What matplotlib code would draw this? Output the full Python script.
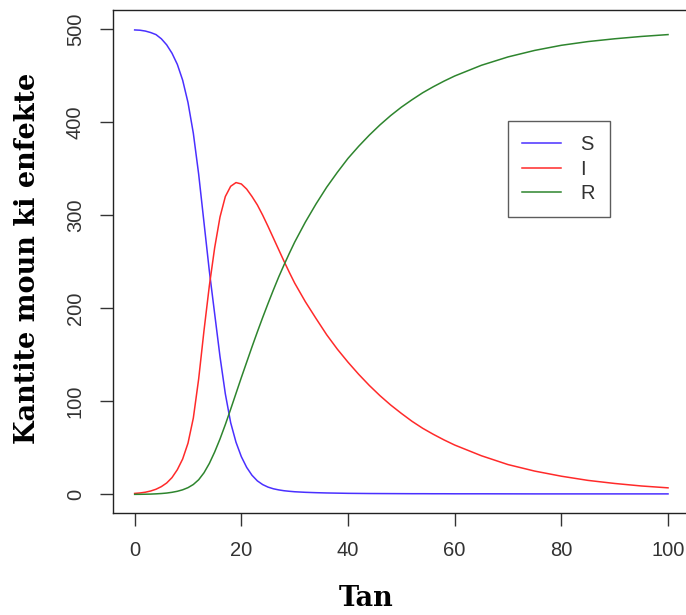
import matplotlib
matplotlib.use("Agg")
import matplotlib.pyplot as plt

# values (SIR epidemic curves)
days = [0, 1, 2, 3, 4, 5, 6, 7, 8, 9, 10, 11, 12, 13, 14, 15, 16, 17, 18,
        19, 20, 21, 22, 23, 24, 25, 26, 27, 28, 29, 30, 32, 34, 36, 38, 40,
        42, 44, 46, 48, 50, 52, 54, 56, 58, 60, 65, 70, 75, 80, 85, 90, 95,
        100]
susceptible = [499, 498.7, 497.8, 496.2, 494, 489.5, 483, 474, 462, 445, 421,
               388, 344, 292, 240, 194, 148, 108, 77, 56, 40.5, 29, 20.5,
               14.5, 10.5, 7.8, 6, 4.8, 3.9, 3.3, 2.8, 2.2, 1.8, 1.5, 1.3,
               1.1, 1.0, 0.9, 0.85, 0.8, 0.75, 0.7, 0.7, 0.65, 0.65, 0.6,
               0.6, 0.55, 0.5, 0.5, 0.5, 0.5, 0.5, 0.5]
infected = [1, 1.5, 2.3, 3.6, 5.5, 8.3, 12.2, 18, 26.5, 38, 55, 82, 124, 176,
            224, 265, 298, 320, 331, 335, 333.5, 328, 320, 311, 300, 288,
            275.5, 263, 250.5, 238.5, 227, 207, 189, 171.5, 156, 142, 129,
            117, 106, 96, 87, 78.5, 71, 64.5, 58.5, 53, 41.5, 32, 25, 19.5,
            15, 11.7, 9, 7]
recovered = [0, 0.05, 0.15, 0.3, 0.55, 0.9, 1.4, 2.2, 3.3, 4.9, 7.2, 10.6,
             15.7, 23.2, 33.2, 45.5, 59.5, 75, 91.5, 108.5, 125.5, 142,
             158.5, 174.5, 190, 205, 219.5, 233.5, 246.5, 259, 271, 292.5,
             312, 330, 346, 361, 374, 386, 397, 407, 416, 424, 431.5, 438,
             444, 449.5, 461, 470, 477, 482.5, 486.5, 489.5, 492, 494]

series = [("S", susceptible, "#4a30ff"),
          ("I", infected, "#ff2a2a"),
          ("R", recovered, "#2e852e")]

x_ticks = [0, 20, 40, 60, 80, 100]
y_ticks = [0, 100, 200, 300, 400, 500]

fig = plt.figure(figsize=(6.86, 6.15), dpi=100)
ax = fig.add_axes([0.1652, 0.1659, 0.8397, 0.8172])

for name, values, color in series:
    ax.plot(days, values, color=color, linewidth=1.1, label=name,
            solid_joinstyle="round")

ax.set_xlim(-4, 104)
ax.set_ylim(-20, 520)
ax.set_xticks(x_ticks)
ax.set_yticks(y_ticks)

tick_font = {"family": "Liberation Sans", "size": 14.5}
ax.set_xticklabels([str(v) for v in x_ticks], fontdict=tick_font, color="#333333")
ax.set_yticklabels([str(v) for v in y_ticks], fontdict=tick_font, color="#333333",
                   rotation=90, va="center")
ax.tick_params(axis="both", direction="out", length=9.4, width=1.0, color="#333333")
ax.tick_params(axis="x", pad=11)
ax.tick_params(axis="y", pad=11)

for spine in ax.spines.values():
    spine.set_linewidth(1.0)
    spine.set_color("#222222")

label_font = {"family": "DejaVu Serif", "weight": "bold", "size": 19.5}
ax.set_xlabel("Tan", fontdict=label_font, va="center")
ax.xaxis.set_label_coords(0.439, -0.171)
ax.set_ylabel("Kantite moun ki enfekte", fontdict=label_font, va="center")
ax.yaxis.set_label_coords(-0.149, 0.506)

leg = ax.legend(loc="upper left", bbox_to_anchor=(507.7 / 686, 1 - 121 / 615),
                bbox_transform=fig.transFigure, frameon=True, fancybox=False,
                prop={"family": "Liberation Sans", "size": 14.5},
                borderpad=0.72, handlelength=1.95, handletextpad=0.95,
                labelspacing=0.26, borderaxespad=0)
leg.get_frame().set_edgecolor("#333333")
leg.get_frame().set_linewidth(1.0)
for txt in leg.get_texts():
    txt.set_color("#333333")

fig.savefig("out.png", dpi=100)
